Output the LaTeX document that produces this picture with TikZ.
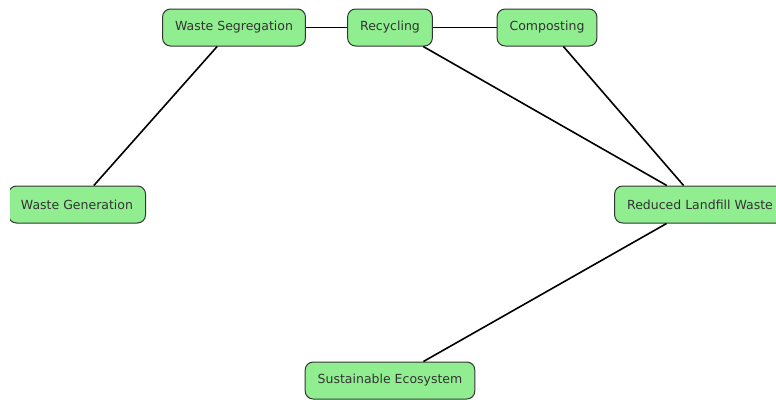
\documentclass[tikz,border=0pt]{standalone}
\usepackage{fontspec}
\setmainfont{DejaVu Sans}
\usepackage{tikz}
\usetikzlibrary{positioning}
\definecolor{leafgreen}{HTML}{90EE90}

\begin{document}
\begin{tikzpicture}[x=1pt,y=-1pt,every node/.style={rectangle,rounded corners=8pt,draw=black!80,line width=1pt,fill=leafgreen,text=black!80,font=\fontsize{12.5}{15}\selectfont,inner xsep=12.5pt,minimum height=37pt}]
		\useasboundingbox (0,0) rectangle (776,399);
		\clip (10,0) rectangle (776,399);

		%top nodes
		\node (seg) at (234,27.5) {Waste Segregation};
		\node (rec) at (390,27.5) {Recycling};
		\node (comp) at (547,27.5) {Composting};

		%middle nodes
		\node (gen) at (77,204.5) {Waste Generation};
		\node (red) at (700,204.5) {Reduced Landfill Waste};

		%bottom node
		\node (eco) at (390,380.5) {Sustainable Ecosystem};

		%edges
		\begin{scope}[line width=1.6pt]
		\draw (gen) -- (seg);
		\draw (seg) -- (rec);
		\draw (rec) -- (comp);
		\draw (rec) -- (red);
		\draw (comp) -- (red);
		\draw (red) -- (eco);
		\end{scope}

		\end{tikzpicture}
\end{document}
